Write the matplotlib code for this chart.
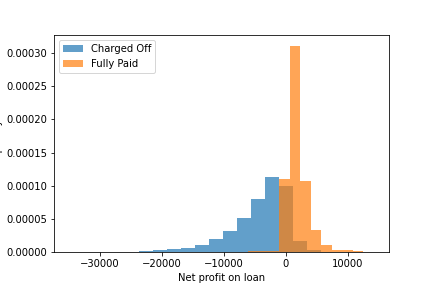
import numpy as np
import matplotlib
matplotlib.use('Agg')
import matplotlib.pyplot as plt

# bin edges + density heights
charged_off_edges = np.linspace(-34964, 10196, 21)
charged_off_density = [1e-7, 1e-7, 2e-7, 3e-7, 6e-7,
                       1.5e-6, 3.0e-6, 4.5e-6, 6.0e-6, 1.05e-5,
                       1.96e-5, 3.17e-5, 5.1e-5, 8.0e-5, 1.136e-4,
                       9.95e-5, 1.66e-5, 3.5e-6, 6e-7, 2e-7]

fully_paid_edges = np.linspace(-19593, 14157, 21)
fully_paid_density = [1e-7, 1e-7, 1e-7, 1e-7, 2e-7,
                      2e-7, 3e-7, 5e-7, 8e-7, 1.0e-6,
                      1.5e-6, 1.10e-4, 3.11e-4, 1.07e-4, 3.3e-5,
                      1.05e-5, 3.0e-6, 3.0e-6, 2.0e-6, 5e-7]

labels = ['Charged Off', 'Fully Paid']

fig, ax = plt.subplots(figsize=(6, 4), dpi=72)
fig.subplots_adjust(left=0.125, right=0.9, bottom=0.125, top=0.877)

ax.hist(charged_off_edges[:-1], bins=charged_off_edges, weights=charged_off_density,
        alpha=0.7, label=labels[0])
ax.hist(fully_paid_edges[:-1], bins=fully_paid_edges, weights=fully_paid_density,
        alpha=0.7, label=labels[1])

ax.set_xlabel('Net profit on loan')
ax.set_ylabel('Frequency')
ax.legend(loc='upper left')

fig.savefig('out.png', dpi=72)
